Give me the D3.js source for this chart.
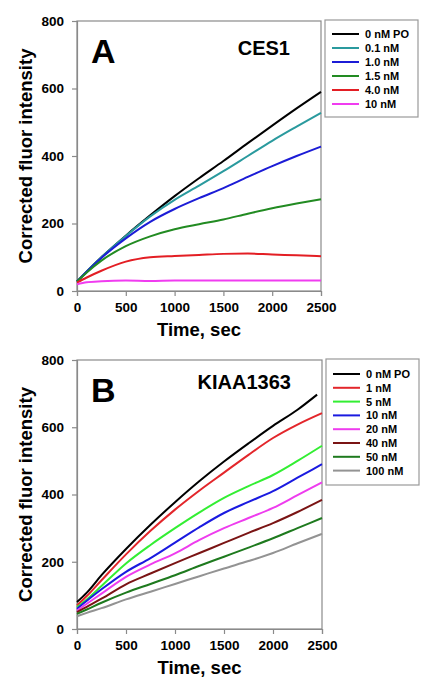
<!DOCTYPE html>
<html><head><meta charset="utf-8">
<script src="https://cdn.jsdelivr.net/npm/d3@7"></script>
<style>
body{margin:0;background:#fff;}
svg text{font-family:"Liberation Sans",Arial,sans-serif;font-weight:bold;fill:#000;}
</style></head>
<body><svg id="c" width="434" height="700"></svg>
<script>
// ---------- data ----------
const times = [0,100,250,500,750,1000,1250,1500,1750,2000,2250,2500];
const xTicks = [0,500,1000,1500,2000,2500];
const yTicks = [0,200,400,600,800];

const labelsA = ["0 nM PO","0.1 nM","1.0 nM","1.5 nM","4.0 nM","10 nM"];
const colorsA = ["#000000","#2a9a9e","#1c1cd6","#228b22","#e31e24","#f03cf0"];
const a0   = [28,58,100,164,224,281,334,385,438,490,541,590];
const a01  = [28,58,100,163,221,270,312,355,400,445,487,528];
const a10  = [28,57,98,156,205,243,275,305,338,370,400,428];
const a15  = [28,55,90,133,162,183,198,212,229,245,259,272];
const a40  = [25,40,60,87,100,104,107,110,111,108,106,103];
const a100 = [20,26,29,31,30,31,31,31,31,31,31,31];

const labelsB = ["0 nM PO","1 nM","5 nM","10 nM","20 nM","40 nM","50 nM","100 nM"];
const colorsB = ["#000000","#e3262b","#33ee33","#1a1ae0","#ee3cee","#7a1414","#1e7a1e","#939393"];
const timesB0 = [0,100,250,500,750,1000,1250,1500,1750,2000,2250,2450];
const b0   = [80,108,160,238,310,377,440,498,552,604,652,697];
const b1   = [70,98,145,222,292,355,412,465,518,568,608,642];
const b5   = [65,88,128,195,250,300,347,390,425,458,500,545];
const b10  = [60,84,118,170,211,257,303,345,378,410,450,490];
const b20  = [55,75,105,155,192,225,265,300,330,360,398,436];
const b40  = [50,66,90,133,165,196,226,256,286,315,348,384];
const b50  = [45,58,78,108,134,160,188,215,242,270,300,330];
const b100 = [38,48,62,88,111,134,157,180,202,226,255,283];

const svg = d3.select("#c");

function panel(opt){
  const g = svg.append("g");
  const x = d3.scaleLinear().domain([0,2500]).range([opt.x0,opt.x1]);
  const y = d3.scaleLinear().domain([0,800]).range([opt.y1,opt.y0]);
  g.append("rect").attr("x",opt.x0).attr("y",opt.y0)
    .attr("width",opt.x1-opt.x0).attr("height",opt.y1-opt.y0)
    .attr("fill","none").attr("stroke","#8a8a8a").attr("stroke-width",1.2);
  const ax = g.append("g").attr("transform",`translate(0,${opt.y1})`)
    .call(d3.axisBottom(x).tickValues(xTicks).tickSize(5).tickPadding(6).tickFormat(d3.format("d")));
  const ay = g.append("g").attr("transform",`translate(${opt.x0},0)`)
    .call(d3.axisLeft(y).tickValues(yTicks).tickSize(5).tickPadding(8).tickFormat(d3.format("d")));
  [ax,ay].forEach(a=>{
    a.select(".domain").attr("stroke","#8a8a8a").attr("stroke-width",1.2);
    a.selectAll(".tick line").attr("stroke","#8a8a8a").attr("stroke-width",1.2);
    a.selectAll(".tick text").style("font-size","13.5px").style("font-family","'Liberation Sans',Arial,sans-serif").style("font-weight","bold").attr("fill","#000");
  });
  const line = d3.line().x(d=>x(d[0])).y(d=>y(d[1])).curve(d3.curveMonotoneX);
  opt.series.forEach((s,i)=>{
    const pts = s.vals.map((v,j)=>[s.t[j],v]);
    g.append("path").attr("d",line(pts)).attr("fill","none")
      .attr("stroke",opt.colors[i]).attr("stroke-width",2);
  });
  g.append("text").attr("x",(opt.x0+opt.x1)/2).attr("y",opt.y1+45)
    .attr("text-anchor","middle").style("font-size","18.5px").text("Time, sec");
  g.append("text").attr("transform",`translate(32,${(opt.y0+opt.y1)/2}) rotate(-90)`)
    .attr("text-anchor","middle").style("font-size","18.5px").text("Corrected fluor intensity");
  g.append("text").attr("x",opt.x0+14).attr("y",opt.y0+42).style("font-size","34px").text(opt.letter);
  g.append("text").attr("x",opt.x1-31).attr("y",opt.y0+opt.nameDy).attr("text-anchor","end")
    .style("font-size","20px").text(opt.name);
  const L = opt.legend;
  g.append("rect").attr("x",L.x).attr("y",L.y).attr("width",L.w).attr("height",L.h)
    .attr("fill","#fff").attr("stroke","#999").attr("stroke-width",1.2);
  opt.labels.forEach((lab,i)=>{
    const yy = L.y + L.first + i*L.step;
    g.append("line").attr("x1",L.x+7).attr("x2",L.x+34).attr("y1",yy).attr("y2",yy)
      .attr("stroke",opt.colors[i]).attr("stroke-width",2);
    g.append("text").attr("x",L.x+40).attr("y",yy+4).style("font-size","11px").text(lab);
  });
}

panel({x0:77,x1:321,y0:21,y1:291,letter:"A",name:"CES1",nameDy:34,
  colors:colorsA,labels:labelsA,
  series:[a0,a01,a10,a15,a40,a100].map(v=>({t:times,vals:v})),
  legend:{x:325,y:20,w:93,h:97,first:14,step:14}});

panel({x0:77,x1:322,y0:360,y1:629,letter:"B",name:"KIAA1363",nameDy:29,
  colors:colorsB,labels:labelsB,
  series:[{t:timesB0,vals:b0}].concat([b1,b5,b10,b20,b40,b50,b100].map(v=>({t:times,vals:v}))),
  legend:{x:326,y:359,w:93,h:126,first:15,step:13.8}});
</script></body></html>
